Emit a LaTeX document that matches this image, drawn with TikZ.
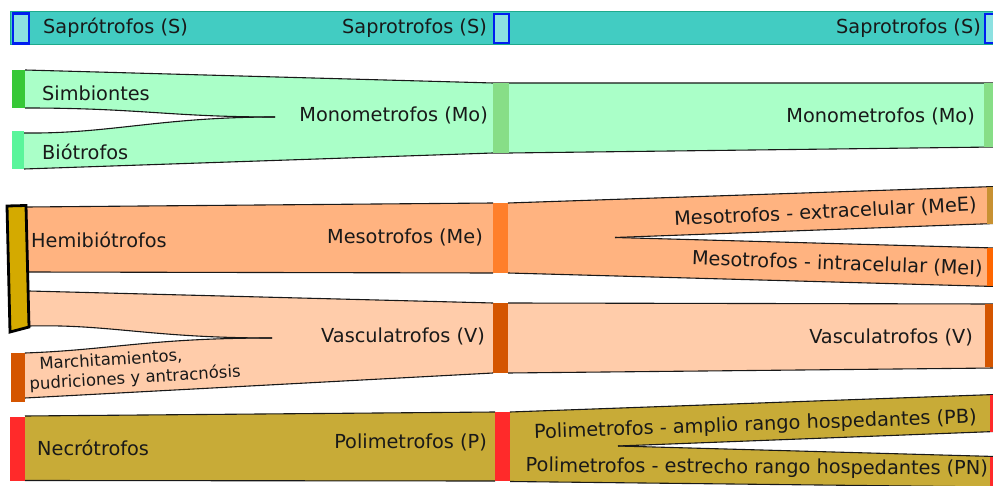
\documentclass[tikz,border=0pt]{standalone}
\usepackage{fontspec}
\setmainfont{DejaVu Sans}
\definecolor{sapband}{RGB}{66,204,194}
\definecolor{sapedge}{RGB}{30,170,140}
\definecolor{sapbox}{RGB}{140,225,225}
\definecolor{sapblue}{RGB}{0,30,240}
\definecolor{mint}{RGB}{170,255,200}
\definecolor{monode}{RGB}{135,222,135}
\definecolor{simnode}{RGB}{55,200,55}
\definecolor{bionode}{RGB}{90,245,155}
\definecolor{meflow}{RGB}{255,179,128}
\definecolor{menode}{RGB}{255,127,42}
\definecolor{vflow}{RGB}{255,204,170}
\definecolor{vnode}{RGB}{212,85,0}
\definecolor{heminode}{RGB}{212,170,0}
\definecolor{meenode}{RGB}{200,145,50}
\definecolor{meinode}{RGB}{255,102,0}
\definecolor{pflow}{RGB}{200,171,55}
\definecolor{pnode}{RGB}{255,42,42}
\begin{document}
\begin{tikzpicture}[x=1pt,y=-1pt,
  flowline/.style={draw=black!90,line width=1.1pt},
  bar/.style={inner sep=0pt,outer sep=0pt,anchor=north west,draw=none},
  sapbar/.style={inner sep=0pt,outer sep=0pt,anchor=north west,draw=sapblue,line width=2.5pt,fill=sapbox},
  lab/.style={inner sep=0pt,font=\fontsize{19.3}{22}\selectfont,text=black!90},
  smalllab/.style={inner sep=0pt,font=\fontsize{16.5}{19.5}\selectfont,text=black!90}]
\useasboundingbox (0,0) rectangle (993,486);
\clip (0,0) rectangle (993,486);

% ---------- Saprotrofos band ----------
\filldraw[fill=sapband,draw=sapedge,line width=1pt] (10,12) -- (1000,12) -- (1000,44.5) -- (10,44.5) -- cycle;
\node[sapbar,minimum width=16pt,minimum height=30pt] (s1) at (13,13.5) {};
\node[sapbar,minimum width=15pt,minimum height=29pt] (s2) at (494,14) {};
\node[sapbar,minimum width=15pt,minimum height=29pt] (s3) at (985,14) {};
\node[lab,anchor=base west] (ls1) at (43,34) {Saprótrofos (S)};
\node[lab,anchor=base east] (ls2) at (487,34) {Saprotrofos (S)};
\node[lab,anchor=base east] (ls3) at (981,34) {Saprotrofos (S)};

% ---------- Monometrofos ----------
\fill[mint] (25,70) -- (493,83) -- (493,153) -- (24,169) -- (24,133)
  .. controls (110,134) and (160,117) .. (275,117)
  .. controls (170,117) and (140,108) .. (25,108) -- cycle;
\fill[mint] (509,83) -- (995,83) -- (995,147) -- (509,153) -- cycle;
\draw[flowline] (25,70) -- (493,83) -- (995,83);
\draw[flowline] (24,169) -- (493,153) -- (509,153) -- (995,147);
\draw[flowline] (25,108) .. controls (140,108) and (170,117) .. (275,117);
\draw[flowline] (24,133) .. controls (110,134) and (160,117) .. (275,117);
\node[bar,fill=simnode,minimum width=13pt,minimum height=38pt] (simb) at (12,70) {};
\node[bar,fill=bionode,minimum width=12pt,minimum height=38pt] (bio) at (12,131) {};
\node[bar,fill=monode,minimum width=16pt,minimum height=70pt] (mo1) at (493,83) {};
\node[bar,fill=monode,minimum width=12pt,minimum height=64pt] (mo2) at (984,83) {};
\node[lab,anchor=base west] (lsimb) at (42,101) {Simbiontes};
\node[lab,anchor=base west] (lbio) at (42,160) {Biótrofos};
\node[lab,anchor=base east] (lmo1) at (488,122) {Monometrofos (Mo)};
\node[lab,anchor=base east] (lmo2) at (975,123) {Monometrofos (Mo)};

% ---------- Mesotrofos ----------
\fill[meflow] (27,207) -- (493,203) -- (493,273) -- (27,272) -- cycle;
\draw[flowline] (27,207) -- (493,203);
\draw[flowline] (27,272) -- (493,273);
\fill[meflow] (508,203) -- (995,186.5) -- (995,223.5) -- (615,237.5) -- (995,248) -- (995,286.5) -- (508,273) -- cycle;
\draw[flowline] (508,203) -- (995,186.5);
\draw[flowline] (615,237.5) -- (995,223.5);
\draw[flowline] (615,237.5) -- (995,248);
\draw[flowline] (508,273) -- (995,286.5);
\node[bar,fill=menode,minimum width=15pt,minimum height=70pt] (me) at (493,203) {};
\node[bar,fill=meenode,minimum width=8pt,minimum height=37pt] (mee) at (987,187) {};
\node[bar,fill=meinode,minimum width=8pt,minimum height=38pt] (mei) at (987,248) {};

% ---------- Vasculatrofos ----------
\fill[vflow] (29,291) -- (493,303) -- (493,373) -- (25,398) -- (25,353)
  .. controls (110,350) and (150,338) .. (272,338)
  .. controls (150,338) and (110,324) .. (29,326) -- cycle;
\draw[flowline] (29,291) -- (493,303);
\draw[flowline] (25,398) -- (493,373);
\draw[flowline] (29,326) .. controls (110,324) and (150,338) .. (272,338);
\draw[flowline] (25,353) .. controls (110,350) and (150,338) .. (272,338);
\fill[vflow] (508,303) -- (995,304) -- (995,368) -- (508,373) -- cycle;
\draw[flowline] (508,303) -- (995,304);
\draw[flowline] (508,373) -- (995,368);
\node[bar,fill=vnode,minimum width=15pt,minimum height=70pt] (v1) at (493,303) {};
\node[bar,fill=vnode,minimum width=10pt,minimum height=63pt] (v2) at (985,304) {};
\node[bar,fill=vnode,minimum width=14pt,minimum height=49pt] (march) at (11,353) {};

% Hemibiotrofos node
\filldraw[fill=heminode,draw=black,line width=2.8pt,line join=miter]
  (7,206) -- (26,205.5) -- (29,327) -- (10,332) -- cycle;

\node[lab,anchor=base west] (lhemi) at (31,248) {Hemibiótrofos};
\node[lab,anchor=base east] (lme) at (483,243.5) {Mesotrofos (Me)};
\node[lab,anchor=base east,rotate=2.8] (lmee) at (977,211) {Mesotrofos - extracelular (MeE)};
\node[lab,anchor=base east,rotate=-2] (lmei) at (982.5,275) {Mesotrofos - intracelular (MeI)};
\node[lab,anchor=base east] (lv1) at (485,342.5) {Vasculatrofos (V)};
\node[lab,anchor=base east] (lv2) at (973,343.5) {Vasculatrofos (V)};
\node[smalllab,anchor=south west,align=left,rotate=3.5] (lmarch) at (30,393.5)
  {\hspace*{11pt}Marchitamientos,\\pudriciones y antracnósis};

% ---------- Polimetrofos ----------
\fill[pflow] (25,416) -- (495,412) -- (495,481) -- (25,480.5) -- cycle;
\draw[flowline] (25,416) -- (495,412);
\draw[flowline] (25,480.5) -- (495,481);
\fill[pflow] (510,412) -- (995,394.5) -- (995,431.5) -- (618,446) -- (995,456.5) -- (995,487) -- (510,481.5) -- cycle;
\draw[flowline] (510,412) -- (995,394.5);
\draw[flowline] (618,446) -- (995,431.5);
\draw[flowline] (618,446) -- (995,456.5);
\draw[flowline] (510,481.5) -- (995,487);
\node[bar,fill=pnode,minimum width=15pt,minimum height=64pt] (necr) at (10,416.5) {};
\node[bar,fill=pnode,minimum width=15pt,minimum height=69pt] (p1) at (495,412) {};
\node[bar,fill=pnode,minimum width=6pt,minimum height=37pt] (pb) at (990,395) {};
\node[bar,fill=pnode,minimum width=6pt,minimum height=32pt] (pn) at (990,457) {};
\node[lab,anchor=base west] (lnecr) at (37,455) {Necrótrofos};
\node[lab,anchor=base east] (lp1) at (487,448.5) {Polimetrofos (P)};
\node[lab,anchor=base east,rotate=2] (lpb) at (977,423) {Polimetrofos - amplio rango hospedantes (PB)};
\node[lab,anchor=base east,rotate=-0.4] (lpn) at (988,475) {Polimetrofos - estrecho rango hospedantes (PN)};
\end{tikzpicture}
\end{document}
